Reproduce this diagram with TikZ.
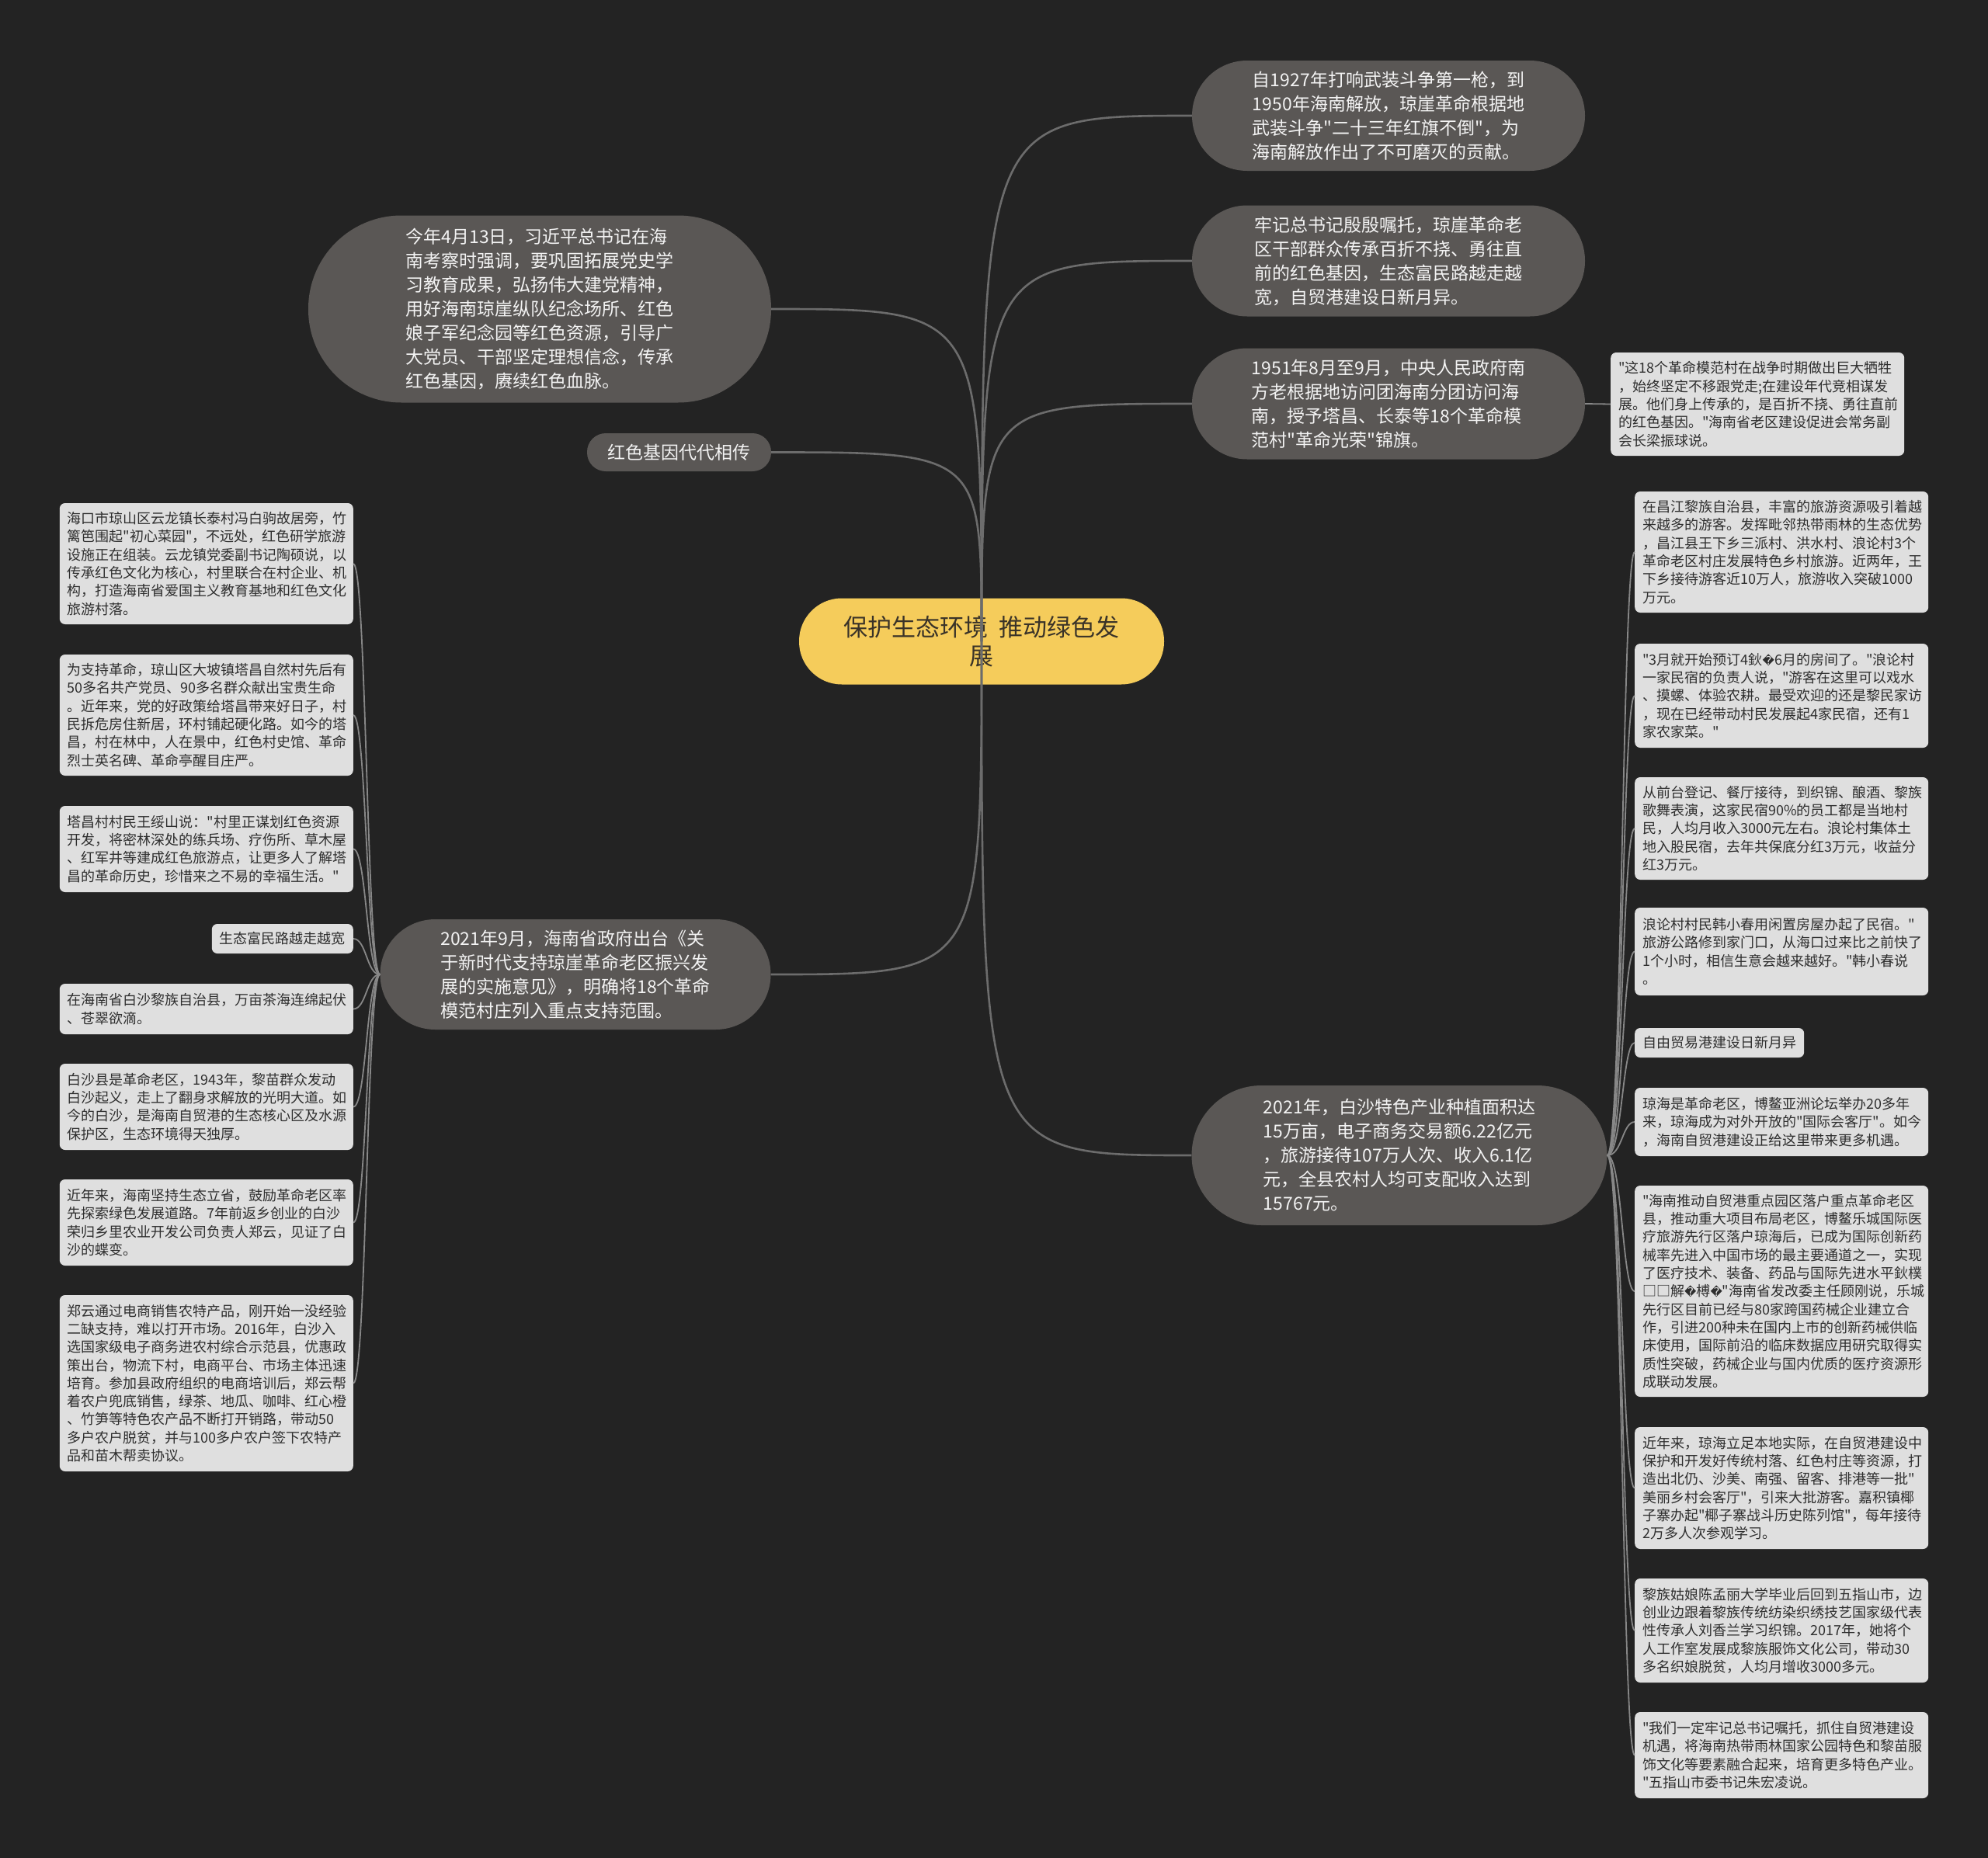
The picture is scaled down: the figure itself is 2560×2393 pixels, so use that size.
\documentclass[tikz,border=0pt]{standalone}
\usepackage{fontspec}
\setmainfont{Noto Sans CJK SC}[Ligatures=TeXOff]
\newfontfamily\dejavu{DejaVu Sans}[Ligatures=TeXOff]
\newcommand\badchar{{\dejavu\fontsize{15}{23.3}\selectfont �}}
\definecolor{bg}{HTML}{232323}
\definecolor{bubblegray}{HTML}{5A5755}
\definecolor{bubbletext}{HTML}{F3F3F3}
\definecolor{boxgray}{HTML}{DFDFDF}
\definecolor{boxtext}{HTML}{2E2E2E}
\definecolor{rooty}{HTML}{F5CC5B}
\definecolor{roottext}{HTML}{3A3328}
\definecolor{linegray}{HTML}{6C6C6C}
\definecolor{sublinegray}{HTML}{878787}
\begin{document}
\begin{tikzpicture}[x=1pt,y=-1pt,
  bubble/.style={fill=bubblegray, text=bubbletext, align=left, inner sep=0pt,
    font=\fontsize{23}{31}\selectfont},
  rootnode/.style={fill=rooty, text=roottext, align=center, inner sep=0pt,
    minimum width=470pt, minimum height=111pt, rounded corners=55pt,
    font=\fontsize{31}{37}\selectfont},
  sbox/.style={fill=boxgray, text=boxtext, rounded corners=7pt, text width=358pt,
    inner xsep=10pt, inner ysep=0pt, align=left, font=\fontsize{18}{23.3}\selectfont},
  tbox/.style={fill=boxgray, text=boxtext, rounded corners=7pt,
    inner xsep=10pt, inner ysep=0pt, minimum height=38pt, font=\fontsize{18}{23.3}\selectfont},
  rootline/.style={draw=linegray, line width=2.6pt},
  subline/.style={draw=sublinegray, line width=1.8pt}]
\fill[bg] (0,0) rectangle (2560,2393);
\useasboundingbox (0,0) rectangle (2560,2393);

% ---- main bubbles ----
\node[bubble, minimum width=506pt, minimum height=142pt, rounded corners=71pt] (b1) at (1788,149)
 {自1927年打响武装斗争第一枪，到\\1950年海南解放，琼崖革命根据地\\武装斗争"二十三年红旗不倒"，为\\海南解放作出了不可磨灭的贡献。};
\node[bubble, minimum width=506pt, minimum height=143pt, rounded corners=71pt] (b2) at (1788,336)
 {牢记总书记殷殷嘱托，琼崖革命老\\区干部群众传承百折不挠、勇往直\\前的红色基因，生态富民路越走越\\宽，自贸港建设日新月异。};
\node[bubble, minimum width=506pt, minimum height=143pt, rounded corners=71pt] (b3) at (1788,520)
 {1951年8月至9月，中央人民政府南\\方老根据地访问团海南分团访问海\\南，授予塔昌、长泰等18个革命模\\范村"革命光荣"锦旗。};
\node[bubble, minimum width=596pt, minimum height=241pt, rounded corners=120pt] (tl) at (695,398)
 {今年4月13日，习近平总书记在海\\南考察时强调，要巩固拓展党史学\\习教育成果，弘扬伟大建党精神，\\用好海南琼崖纵队纪念场所、红色\\娘子军纪念园等红色资源，引导广\\大党员、干部坚定理想信念，传承\\红色基因，赓续红色血脉。};
\node[bubble, minimum width=237pt, minimum height=49pt, rounded corners=24pt] (hb) at (874.5,582.5)
 {红色基因代代相传};
\node[bubble, minimum width=503pt, minimum height=142pt, rounded corners=71pt] (lb) at (741,1255)
 {2021年9月，海南省政府出台《关\\于新时代支持琼崖革命老区振兴发\\展的实施意见》，明确将18个革命\\模范村庄列入重点支持范围。};
\node[bubble, minimum width=535pt, minimum height=180pt, rounded corners=90pt] (rb) at (1802,1488)
 {2021年，白沙特色产业种植面积达\\15万亩，电子商务交易额6.22亿元\\，旅游接待107万人次、收入6.1亿\\元，全县农村人均可支配收入达到\\15767元。};

% ---- root ----
\node[rootnode] (root) at (1264,826) {保护生态环境\hspace{14pt}推动绿色发\\展};

% ---- root connectors ----
\draw[rootline] (root.center) .. controls (root.center |- b1.west) .. (b1.west);
\draw[rootline] (root.center) .. controls (root.center |- b2.west) .. (b2.west);
\draw[rootline] (root.center) .. controls (root.center |- b3.west) .. (b3.west);
\draw[rootline] (root.center) .. controls (root.center |- tl.east) .. (tl.east);
\draw[rootline] (root.center) .. controls (root.center |- hb.east) .. (hb.east);
\draw[rootline] (root.center) .. controls (root.center |- lb.east) .. (lb.east);
\draw[rootline] (root.center) .. controls (root.center |- rb.west) .. (rb.west);

% ---- box beside b3 ----
\node[sbox, anchor=west, minimum height=133pt] (s3) at (2074,520.5)
 {"这18个革命模范村在战争时期做出巨大牺牲\\，始终坚定不移跟党走;在建设年代竞相谋发\\展。他们身上传承的，是百折不挠、勇往直前\\的红色基因。"海南省老区建设促进会常务副\\会长梁振球说。};
\draw[subline] (b3.east) -- (s3.west);

% ---- right column ----
\node[sbox, anchor=west, minimum height=156pt] (r1) at (2105,711)
 {在昌江黎族自治县，丰富的旅游资源吸引着越\\来越多的游客。发挥毗邻热带雨林的生态优势\\，昌江县王下乡三派村、洪水村、浪论村3个\\革命老区村庄发展特色乡村旅游。近两年，王\\下乡接待游客近10万人，旅游收入突破1000\\万元。};
\node[sbox, anchor=west, minimum height=134pt] (r2) at (2105,896)
 {"3月就开始预订4鈥\badchar 6月的房间了。"浪论村\\一家民宿的负责人说，"游客在这里可以戏水\\、摸螺、体验农耕。最受欢迎的还是黎民家访\\，现在已经带动村民发展起4家民宿，还有1\\家农家菜。"};
\node[sbox, anchor=west, minimum height=132pt] (r3) at (2105,1067)
 {从前台登记、餐厅接待，到织锦、酿酒、黎族\\歌舞表演，这家民宿90\%的员工都是当地村\\民，人均月收入3000元左右。浪论村集体土\\地入股民宿，去年共保底分红3万元，收益分\\红3万元。};
\node[sbox, anchor=west, minimum height=113pt] (r4) at (2105,1225.5)
 {浪论村村民韩小春用闲置房屋办起了民宿。"\\旅游公路修到家门口，从海口过来比之前快了\\1个小时，相信生意会越来越好。"韩小春说\\。};
\node[tbox, anchor=west] (r5) at (2105,1343) {自由贸易港建设日新月异};
\node[sbox, anchor=west, minimum height=88pt] (r6) at (2105,1445)
 {琼海是革命老区，博鳌亚洲论坛举办20多年\\来，琼海成为对外开放的"国际会客厅"。如今\\，海南自贸港建设正给这里带来更多机遇。};
\node[sbox, anchor=west, minimum height=272pt] (r7) at (2105,1663)
 {"海南推动自贸港重点园区落户重点革命老区\\县，推动重大项目布局老区，博鳌乐城国际医\\疗旅游先行区落户琼海后，已成为国际创新药\\械率先进入中国市场的最主要通道之一，实现\\了医疗技术、装备、药品与国际先进水平鈥樸\\□□解\badchar 榑\badchar "海南省发改委主任顾刚说，乐城\\先行区目前已经与80家跨国药械企业建立合\\作，引进200种未在国内上市的创新药械供临\\床使用，国际前沿的临床数据应用研究取得实\\质性突破，药械企业与国内优质的医疗资源形\\成联动发展。};
\node[sbox, anchor=west, minimum height=157pt] (r8) at (2105,1916.5)
 {近年来，琼海立足本地实际，在自贸港建设中\\保护和开发好传统村落、红色村庄等资源，打\\造出北仍、沙美、南强、留客、排港等一批"\\美丽乡村会客厅"，引来大批游客。嘉积镇椰\\子寨办起"椰子寨战斗历史陈列馆"，每年接待\\2万多人次参观学习。};
\node[sbox, anchor=west, minimum height=134pt] (r9) at (2105,2100)
 {黎族姑娘陈孟丽大学毕业后回到五指山市，边\\创业边跟着黎族传统纺染织绣技艺国家级代表\\性传承人刘香兰学习织锦。2017年，她将个\\人工作室发展成黎族服饰文化公司，带动30\\多名织娘脱贫，人均月增收3000多元。};
\node[sbox, anchor=west, minimum height=111pt] (r10) at (2105,2260.5)
 {"我们一定牢记总书记嘱托，抓住自贸港建设\\机遇，将海南热带雨林国家公园特色和黎苗服\\饰文化等要素融合起来，培育更多特色产业。\\"五指山市委书记朱宏凌说。};

\coordinate (rj) at (2089,1488);
\foreach \n in {r1,r2,r3,r4,r5,r6,r7,r8,r9,r10}
  \draw[subline] (rb.east) .. controls (rj) and (rj |- \n.west) .. (\n.west);

% ---- left column ----
\node[sbox, anchor=east, minimum height=156pt] (l1) at (455,726)
 {海口市琼山区云龙镇长泰村冯白驹故居旁，竹\\篱笆围起"初心菜园"，不远处，红色研学旅游\\设施正在组装。云龙镇党委副书记陶硕说，以\\传承红色文化为核心，村里联合在村企业、机\\构，打造海南省爱国主义教育基地和红色文化\\旅游村落。};
\node[sbox, anchor=east, minimum height=156pt] (l2) at (455,921)
 {为支持革命，琼山区大坡镇塔昌自然村先后有\\50多名共产党员、90多名群众献出宝贵生命\\。近年来，党的好政策给塔昌带来好日子，村\\民拆危房住新居，环村铺起硬化路。如今的塔\\昌，村在林中，人在景中，红色村史馆、革命\\烈士英名碑、革命亭醒目庄严。};
\node[sbox, anchor=east, minimum height=111pt] (l3) at (455,1093.5)
 {塔昌村村民王绥山说："村里正谋划红色资源\\开发，将密林深处的练兵场、疗伤所、草木屋\\、红军井等建成红色旅游点，让更多人了解塔\\昌的革命历史，珍惜来之不易的幸福生活。"};
\node[tbox, anchor=east] (l4) at (455,1209) {生态富民路越走越宽};
\node[sbox, anchor=east, minimum height=65pt] (l5) at (455,1299.5)
 {在海南省白沙黎族自治县，万亩茶海连绵起伏\\、苍翠欲滴。};
\node[sbox, anchor=east, minimum height=111pt] (l6) at (455,1425.5)
 {白沙县是革命老区，1943年，黎苗群众发动\\白沙起义，走上了翻身求解放的光明大道。如\\今的白沙，是海南自贸港的生态核心区及水源\\保护区，生态环境得天独厚。};
\node[sbox, anchor=east, minimum height=111pt] (l7) at (455,1574.5)
 {近年来，海南坚持生态立省，鼓励革命老区率\\先探索绿色发展道路。7年前返乡创业的白沙\\荣归乡里农业开发公司负责人郑云，见证了白\\沙的蝶变。};
\node[sbox, anchor=east, minimum height=227pt] (l8) at (455,1781.5)
 {郑云通过电商销售农特产品，刚开始一没经验\\二缺支持，难以打开市场。2016年，白沙入\\选国家级电子商务进农村综合示范县，优惠政\\策出台，物流下村，电商平台、市场主体迅速\\培育。参加县政府组织的电商培训后，郑云帮\\着农户兜底销售，绿茶、地瓜、咖啡、红心橙\\、竹笋等特色农产品不断打开销路，带动50\\多户农户脱贫，并与100多户农户签下农特产\\品和苗木帮卖协议。};

\coordinate (lj) at (472,1255);
\foreach \n in {l1,l2,l3,l4,l5,l6,l7,l8}
  \draw[subline] (lb.west) .. controls (lj) and (lj |- \n.east) .. (\n.east);
\end{tikzpicture}
\end{document}
